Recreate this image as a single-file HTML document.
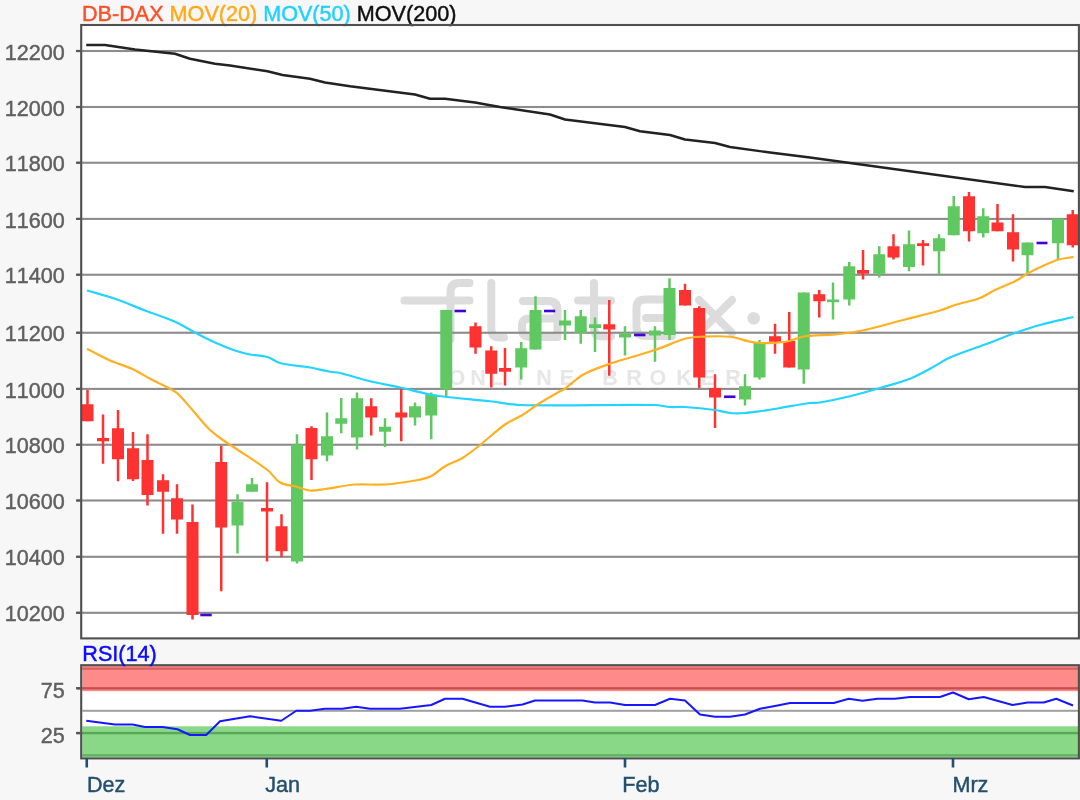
<!DOCTYPE html>
<html><head><meta charset="utf-8"><title>DB-DAX</title>
<style>
html,body{margin:0;padding:0;background:#f7f7f7;}
body{width:1080px;height:800px;overflow:hidden;}
svg{display:block}
text{font-family:"Liberation Sans",sans-serif;font-size:21.6px;font-kerning:none;stroke-width:0.45px}
</style></head><body>
<svg width="1080" height="800" viewBox="0 0 1080 800">
<defs>
<filter id="b" x="-2%" y="-2%" width="104%" height="104%" filterUnits="objectBoundingBox"><feGaussianBlur stdDeviation="0.7"/></filter>
<clipPath id="cp"><rect x="82" y="25" width="997" height="614"/></clipPath>
</defs>
<rect x="0" y="0" width="1080" height="800" fill="#f7f7f7"/>
<g filter="url(#b)">
<rect x="-20" y="-20" width="1120" height="840" fill="#f7f7f7"/>
<rect x="82.35" y="25.65" width="996.3" height="612.9" fill="#ffffff"/>

<g id="wm" fill="none" stroke="#dcdcdc" stroke-width="8" stroke-linecap="round" stroke-linejoin="round">
<path d="M404.5 300.5 H469.5"/>
<path d="M450.5 339 V292 Q450.5 283 459.5 283 H469.5"/>
<path d="M491.3 283 V329 Q491.3 337.5 500 337.5 H504"/>
<path d="M523 301 H548 Q557.5 301 557.5 310 V337 H530 Q522 337 522 329 V326 Q522 318.5 530 318.5 H557"/>
<path d="M594 283 V328 Q594 336.5 602.5 336.5 H611"/>
<path d="M578 300.5 H611"/>
<path d="M672 331 V336 H645 Q636.5 336 636.5 327.5 V308 Q636.5 299.5 645 299.5 H663.5 Q672 299.5 672 308 V318 H646"/>
<path d="M699 300 L732 333 M732 300 L699 333"/>
</g>
<circle cx="753.7" cy="318.3" r="6.3" fill="#dcdcdc"/>
<g fill="#e6e6e6" style="font-weight:bold;font-size:19px">
<text x="457.0" y="384.5" text-anchor="middle">O</text>
<text x="478.0" y="384.5" text-anchor="middle">N</text>
<text x="496.0" y="384.5" text-anchor="middle">L</text>
<text x="520.0" y="384.5" text-anchor="middle">I</text>
<text x="544.0" y="384.5" text-anchor="middle">N</text>
<text x="567.0" y="384.5" text-anchor="middle">E</text>
<text x="610.0" y="384.5" text-anchor="middle">B</text>
<text x="634.0" y="384.5" text-anchor="middle">R</text>
<text x="658.0" y="384.5" text-anchor="middle">O</text>
<text x="684.0" y="384.5" text-anchor="middle">K</text>
<text x="708.0" y="384.5" text-anchor="middle">E</text>
<text x="733.0" y="384.5" text-anchor="middle">R</text>
</g>
<rect x="77" y="49.95" width="1001" height="2.1" fill="#8c8c8c"/>
<rect x="77" y="105.95" width="1001" height="2.1" fill="#8c8c8c"/>
<rect x="77" y="161.70" width="1001" height="2.1" fill="#8c8c8c"/>
<rect x="77" y="217.85" width="1001" height="2.1" fill="#8c8c8c"/>
<rect x="77" y="273.70" width="1001" height="2.1" fill="#8c8c8c"/>
<rect x="77" y="331.70" width="1001" height="2.1" fill="#8c8c8c"/>
<rect x="77" y="387.85" width="1001" height="2.1" fill="#8c8c8c"/>
<rect x="77" y="443.70" width="1001" height="2.1" fill="#8c8c8c"/>
<rect x="77" y="499.45" width="1001" height="2.1" fill="#8c8c8c"/>
<rect x="77" y="555.75" width="1001" height="2.1" fill="#8c8c8c"/>
<rect x="77" y="611.75" width="1001" height="2.1" fill="#8c8c8c"/>
<g clip-path="url(#cp)">
<rect x="86.25" y="390.00" width="2.50" height="31.25" fill="#ff3030"/>
<rect x="81.50" y="404.25" width="12.00" height="17.00" fill="#ff3030"/>
<rect x="101.75" y="414.50" width="2.50" height="49.25" fill="#ff3030"/>
<rect x="97.00" y="438.00" width="12.00" height="3.25" fill="#ff3030"/>
<rect x="116.75" y="410.00" width="2.50" height="71.25" fill="#ff3030"/>
<rect x="112.00" y="428.25" width="12.00" height="31.00" fill="#ff3030"/>
<rect x="131.75" y="432.00" width="2.50" height="49.00" fill="#ff3030"/>
<rect x="127.00" y="448.25" width="12.00" height="31.00" fill="#ff3030"/>
<rect x="146.25" y="434.25" width="2.50" height="71.25" fill="#ff3030"/>
<rect x="141.50" y="460.00" width="12.00" height="35.00" fill="#ff3030"/>
<rect x="161.75" y="474.25" width="2.50" height="59.50" fill="#ff3030"/>
<rect x="157.00" y="480.25" width="12.00" height="11.50" fill="#ff3030"/>
<rect x="175.75" y="484.25" width="2.50" height="49.50" fill="#ff3030"/>
<rect x="171.00" y="498.25" width="12.00" height="21.25" fill="#ff3030"/>
<rect x="191.25" y="504.50" width="2.50" height="115.00" fill="#ff3030"/>
<rect x="186.50" y="522.00" width="12.00" height="93.00" fill="#ff3030"/>
<rect x="220.00" y="445.75" width="2.50" height="145.50" fill="#ff3030"/>
<rect x="215.25" y="462.00" width="12.00" height="65.50" fill="#ff3030"/>
<rect x="236.25" y="494.25" width="2.50" height="59.25" fill="#60c860"/>
<rect x="231.50" y="501.75" width="12.00" height="23.75" fill="#60c860"/>
<rect x="250.75" y="478.00" width="2.50" height="13.75" fill="#60c860"/>
<rect x="246.00" y="484.25" width="12.00" height="7.50" fill="#60c860"/>
<rect x="265.75" y="482.25" width="2.50" height="79.25" fill="#ff3030"/>
<rect x="261.00" y="508.00" width="12.00" height="3.50" fill="#ff3030"/>
<rect x="280.25" y="514.25" width="2.50" height="43.00" fill="#ff3030"/>
<rect x="275.50" y="526.25" width="12.00" height="25.00" fill="#ff3030"/>
<rect x="295.75" y="434.25" width="2.50" height="129.25" fill="#60c860"/>
<rect x="291.00" y="444.50" width="12.00" height="117.00" fill="#60c860"/>
<rect x="310.25" y="426.25" width="2.50" height="53.75" fill="#ff3030"/>
<rect x="305.50" y="428.00" width="12.00" height="31.25" fill="#ff3030"/>
<rect x="325.75" y="412.50" width="2.50" height="48.75" fill="#60c860"/>
<rect x="321.00" y="436.25" width="12.00" height="19.25" fill="#60c860"/>
<rect x="340.00" y="398.00" width="2.50" height="35.25" fill="#60c860"/>
<rect x="335.25" y="418.25" width="12.00" height="5.50" fill="#60c860"/>
<rect x="355.75" y="392.50" width="2.50" height="57.00" fill="#60c860"/>
<rect x="351.00" y="398.25" width="12.00" height="39.25" fill="#60c860"/>
<rect x="370.00" y="398.25" width="2.50" height="37.25" fill="#ff3030"/>
<rect x="365.25" y="406.25" width="12.00" height="11.25" fill="#ff3030"/>
<rect x="383.75" y="418.25" width="2.50" height="28.75" fill="#60c860"/>
<rect x="379.00" y="426.75" width="12.00" height="5.00" fill="#60c860"/>
<rect x="400.00" y="387.50" width="2.50" height="53.75" fill="#ff3030"/>
<rect x="395.25" y="412.50" width="12.00" height="5.00" fill="#ff3030"/>
<rect x="413.75" y="402.50" width="2.50" height="23.00" fill="#60c860"/>
<rect x="409.00" y="406.25" width="12.00" height="11.25" fill="#60c860"/>
<rect x="430.00" y="392.50" width="2.50" height="46.75" fill="#60c860"/>
<rect x="425.25" y="394.50" width="12.00" height="21.00" fill="#60c860"/>
<rect x="445.00" y="310.00" width="2.50" height="86.25" fill="#60c860"/>
<rect x="440.25" y="310.00" width="12.00" height="79.25" fill="#60c860"/>
<rect x="474.25" y="322.50" width="2.50" height="31.25" fill="#ff3030"/>
<rect x="469.50" y="326.25" width="12.00" height="21.25" fill="#ff3030"/>
<rect x="490.00" y="346.25" width="2.50" height="41.25" fill="#ff3030"/>
<rect x="485.25" y="350.50" width="12.00" height="23.25" fill="#ff3030"/>
<rect x="503.75" y="348.00" width="2.50" height="37.50" fill="#ff3030"/>
<rect x="499.00" y="368.00" width="12.00" height="3.75" fill="#ff3030"/>
<rect x="520.00" y="342.00" width="2.50" height="37.50" fill="#60c860"/>
<rect x="515.25" y="348.25" width="12.00" height="19.25" fill="#60c860"/>
<rect x="534.25" y="296.25" width="2.50" height="53.25" fill="#60c860"/>
<rect x="529.50" y="310.00" width="12.00" height="39.50" fill="#60c860"/>
<rect x="563.75" y="310.00" width="2.50" height="30.00" fill="#60c860"/>
<rect x="559.00" y="320.50" width="12.00" height="5.00" fill="#60c860"/>
<rect x="579.50" y="310.00" width="2.50" height="33.75" fill="#60c860"/>
<rect x="574.75" y="316.25" width="12.00" height="16.75" fill="#60c860"/>
<rect x="593.75" y="317.50" width="2.50" height="34.50" fill="#60c860"/>
<rect x="589.00" y="324.25" width="12.00" height="3.75" fill="#60c860"/>
<rect x="608.00" y="300.00" width="2.50" height="75.75" fill="#ff3030"/>
<rect x="603.25" y="324.25" width="12.00" height="5.25" fill="#ff3030"/>
<rect x="623.75" y="326.25" width="2.50" height="29.25" fill="#60c860"/>
<rect x="619.00" y="333.75" width="12.00" height="3.75" fill="#60c860"/>
<rect x="653.75" y="326.25" width="2.50" height="35.50" fill="#60c860"/>
<rect x="649.00" y="330.50" width="12.00" height="5.00" fill="#60c860"/>
<rect x="668.25" y="278.25" width="2.50" height="61.75" fill="#60c860"/>
<rect x="663.50" y="288.00" width="12.00" height="47.00" fill="#60c860"/>
<rect x="683.75" y="283.75" width="2.50" height="21.75" fill="#ff3030"/>
<rect x="679.00" y="290.00" width="12.00" height="15.50" fill="#ff3030"/>
<rect x="698.00" y="306.25" width="2.50" height="81.75" fill="#ff3030"/>
<rect x="693.25" y="308.00" width="12.00" height="69.50" fill="#ff3030"/>
<rect x="713.75" y="374.25" width="2.50" height="53.75" fill="#ff3030"/>
<rect x="709.00" y="388.00" width="12.00" height="9.50" fill="#ff3030"/>
<rect x="743.75" y="374.25" width="2.50" height="31.25" fill="#60c860"/>
<rect x="739.00" y="386.25" width="12.00" height="13.25" fill="#60c860"/>
<rect x="758.25" y="340.00" width="2.50" height="39.50" fill="#60c860"/>
<rect x="753.50" y="343.00" width="12.00" height="34.50" fill="#60c860"/>
<rect x="773.75" y="323.75" width="2.50" height="30.00" fill="#ff3030"/>
<rect x="769.00" y="336.25" width="12.00" height="5.50" fill="#ff3030"/>
<rect x="788.00" y="312.00" width="2.50" height="55.50" fill="#ff3030"/>
<rect x="783.25" y="341.00" width="12.00" height="26.50" fill="#ff3030"/>
<rect x="802.50" y="292.50" width="2.50" height="91.25" fill="#60c860"/>
<rect x="797.75" y="292.50" width="12.00" height="77.00" fill="#60c860"/>
<rect x="818.00" y="290.00" width="2.50" height="27.50" fill="#ff3030"/>
<rect x="813.25" y="294.25" width="12.00" height="7.00" fill="#ff3030"/>
<rect x="831.75" y="282.50" width="2.50" height="37.00" fill="#60c860"/>
<rect x="827.00" y="299.50" width="12.00" height="2.70" fill="#60c860"/>
<rect x="848.00" y="262.00" width="2.50" height="43.50" fill="#60c860"/>
<rect x="843.25" y="266.25" width="12.00" height="33.25" fill="#60c860"/>
<rect x="861.75" y="250.00" width="2.50" height="29.50" fill="#ff3030"/>
<rect x="857.00" y="270.00" width="12.00" height="3.75" fill="#ff3030"/>
<rect x="878.00" y="246.25" width="2.50" height="31.25" fill="#60c860"/>
<rect x="873.25" y="254.25" width="12.00" height="19.50" fill="#60c860"/>
<rect x="892.25" y="234.25" width="2.50" height="25.25" fill="#ff3030"/>
<rect x="887.50" y="246.25" width="12.00" height="11.25" fill="#ff3030"/>
<rect x="907.75" y="230.50" width="2.50" height="40.75" fill="#60c860"/>
<rect x="903.00" y="244.25" width="12.00" height="22.75" fill="#60c860"/>
<rect x="921.75" y="240.00" width="2.50" height="25.50" fill="#ff3030"/>
<rect x="917.00" y="243.25" width="12.00" height="2.70" fill="#ff3030"/>
<rect x="937.75" y="234.25" width="2.50" height="40.25" fill="#60c860"/>
<rect x="933.00" y="238.25" width="12.00" height="13.00" fill="#60c860"/>
<rect x="952.50" y="196.00" width="2.50" height="39.25" fill="#60c860"/>
<rect x="947.75" y="206.25" width="12.00" height="29.00" fill="#60c860"/>
<rect x="967.75" y="192.00" width="2.50" height="49.50" fill="#ff3030"/>
<rect x="963.00" y="196.25" width="12.00" height="35.00" fill="#ff3030"/>
<rect x="982.00" y="208.25" width="2.50" height="29.25" fill="#60c860"/>
<rect x="977.25" y="216.25" width="12.00" height="17.00" fill="#60c860"/>
<rect x="996.25" y="204.00" width="2.50" height="27.25" fill="#ff3030"/>
<rect x="991.50" y="222.50" width="12.00" height="8.75" fill="#ff3030"/>
<rect x="1011.75" y="214.25" width="2.50" height="47.25" fill="#ff3030"/>
<rect x="1007.00" y="232.25" width="12.00" height="17.25" fill="#ff3030"/>
<rect x="1026.25" y="242.50" width="2.50" height="31.25" fill="#60c860"/>
<rect x="1021.50" y="242.50" width="12.00" height="12.75" fill="#60c860"/>
<rect x="1056.75" y="218.75" width="2.50" height="40.75" fill="#60c860"/>
<rect x="1052.00" y="218.75" width="12.00" height="24.50" fill="#60c860"/>
<rect x="1071.50" y="210.00" width="2.50" height="37.50" fill="#ff3030"/>
<rect x="1066.75" y="214.25" width="12.00" height="31.00" fill="#ff3030"/>
<rect x="200.30" y="613.70" width="11.40" height="2.6" fill="#4000d8"/>
<rect x="454.55" y="309.70" width="11.40" height="2.6" fill="#4000d8"/>
<rect x="544.05" y="309.70" width="11.15" height="2.6" fill="#4000d8"/>
<rect x="634.05" y="333.70" width="11.40" height="2.6" fill="#4000d8"/>
<rect x="724.05" y="395.45" width="11.40" height="2.6" fill="#4000d8"/>
<rect x="1036.55" y="241.70" width="10.90" height="2.6" fill="#4000d8"/>
<path d="M87.00 290.50 C96.33 293.25 105.67 295.53 115.00 298.75 C125.00 302.20 135.00 306.67 145.00 310.50 C155.00 314.33 165.00 317.35 175.00 321.75 C181.67 324.68 188.33 329.04 195.00 332.50 C201.67 335.96 208.33 339.50 215.00 342.50 C221.67 345.50 228.33 348.21 235.00 350.50 C240.00 352.21 245.00 353.50 250.00 354.50 C255.83 355.67 261.67 355.35 267.50 357.00 C271.67 358.18 275.83 361.97 280.00 363.00 C290.00 365.47 300.00 365.75 310.00 367.50 C316.67 368.67 323.33 370.53 330.00 371.75 C333.33 372.36 336.67 372.21 340.00 373.00 C350.00 375.38 360.00 378.83 370.00 381.25 C380.00 383.67 390.00 385.29 400.00 387.50 C410.00 389.71 420.00 392.44 430.00 394.50 C435.00 395.53 440.00 396.19 445.00 396.75 C460.00 398.44 475.00 399.60 490.00 401.25 C500.00 402.35 510.00 404.77 520.00 405.00 C565.00 406.02 610.00 404.40 655.00 405.00 C660.00 405.07 665.00 406.67 670.00 407.00 C675.00 407.33 680.00 406.67 685.00 407.00 C695.00 407.67 705.00 408.67 715.00 410.00 C720.00 410.67 725.00 412.50 730.00 413.00 C735.00 413.50 740.00 413.29 745.00 413.00 C750.00 412.71 755.00 411.96 760.00 411.25 C766.67 410.30 773.33 409.10 780.00 408.00 C790.00 406.35 800.00 404.38 810.00 403.00 C813.33 402.54 816.67 403.06 820.00 402.50 C830.00 400.81 840.00 398.67 850.00 396.25 C860.00 393.83 870.00 390.92 880.00 388.00 C890.00 385.08 900.00 382.60 910.00 378.75 C916.67 376.18 923.33 372.29 930.00 368.75 C936.67 365.21 943.33 360.44 950.00 357.50 C961.67 352.36 973.33 348.90 985.00 344.50 C995.00 340.73 1005.00 336.55 1015.00 333.00 C1023.33 330.05 1031.67 327.28 1040.00 325.00 C1051.17 321.95 1062.33 319.67 1073.50 317.00" fill="none" stroke="#22d4ff" stroke-width="2.2" stroke-linejoin="round"/>
<path d="M87.00 348.75 C94.67 352.67 102.33 357.09 110.00 360.50 C117.50 363.84 125.00 365.58 132.50 369.00 C138.33 371.66 144.17 375.68 150.00 378.75 C156.67 382.26 163.33 385.17 170.00 388.75 C172.50 390.09 175.00 391.14 177.50 393.50 C182.50 398.22 187.50 404.33 192.50 410.00 C197.50 415.67 202.50 422.41 207.50 427.50 C211.67 431.74 215.83 434.89 220.00 438.00 C225.00 441.73 230.00 444.63 235.00 448.00 C245.83 455.30 256.67 461.69 267.50 470.00 C271.67 473.19 275.83 480.04 280.00 482.50 C285.00 485.45 290.00 484.92 295.00 486.25 C300.00 487.58 305.00 490.04 310.00 490.50 C315.00 490.96 320.00 489.67 325.00 489.00 C335.00 487.67 345.00 485.25 355.00 484.50 C365.00 483.75 375.00 485.17 385.00 484.50 C395.00 483.83 405.00 482.29 415.00 480.50 C420.33 479.54 425.67 478.78 431.00 476.25 C435.67 474.03 440.33 468.95 445.00 466.25 C450.83 462.87 456.67 461.54 462.50 458.00 C468.33 454.46 474.17 449.60 480.00 445.00 C488.33 438.43 496.67 430.38 505.00 424.50 C510.83 420.38 516.67 418.59 522.50 415.00 C527.50 411.92 532.50 407.67 537.50 404.50 C545.00 399.75 552.50 395.55 560.00 391.25 C561.67 390.30 563.33 389.95 565.00 388.75 C570.83 384.54 576.67 378.24 582.50 375.00 C591.67 369.91 600.83 366.91 610.00 363.75 C625.00 358.58 640.00 355.00 655.00 350.00 C665.00 346.67 675.00 341.69 685.00 338.75 C690.00 337.28 695.00 336.97 700.00 336.75 C710.00 336.31 720.00 335.70 730.00 336.75 C738.33 337.62 746.67 341.70 755.00 342.50 C765.00 343.45 775.00 343.25 785.00 342.00 C791.67 341.17 798.33 337.25 805.00 336.25 C815.00 334.75 825.00 335.54 835.00 334.50 C845.00 333.46 855.00 332.14 865.00 330.00 C878.33 327.14 891.67 322.97 905.00 319.50 C916.67 316.47 928.33 313.88 940.00 310.50 C945.00 309.05 950.00 306.56 955.00 305.00 C963.33 302.40 971.67 301.12 980.00 298.00 C985.00 296.12 990.00 292.39 995.00 290.00 C1001.67 286.81 1008.33 284.60 1015.00 281.25 C1019.00 279.24 1023.00 276.13 1027.00 273.90 C1031.33 271.48 1035.67 269.31 1040.00 267.30 C1045.67 264.67 1051.33 261.78 1057.00 260.00 C1062.50 258.28 1068.00 257.87 1073.50 256.80" fill="none" stroke="#ffb020" stroke-width="2.2" stroke-linejoin="round"/>
<polyline points="86.25,45.00 105.00,45.00 135.00,49.50 175.00,53.75 190.00,58.75 215.00,63.75 230.00,65.50 267.50,71.25 282.50,75.00 310.00,78.75 325.00,82.50 350.00,86.25 415.00,94.50 430.00,98.75 445.00,98.75 475.00,102.50 500.00,107.00 550.00,114.50 565.00,119.50 625.00,127.00 640.00,131.25 670.00,135.00 685.00,139.50 715.00,143.00 730.00,147.00 770.00,152.50 810.00,157.50 1025.00,187.00 1045.00,187.00 1073.75,191.25" fill="none" stroke="#202020" stroke-width="2.4" stroke-linejoin="round"/>
</g>
<text x="82" y="21.3" xml:space="preserve"><tspan fill="#ff5028" stroke="#ff5028">DB-DAX</tspan> <tspan fill="#ffaa18" stroke="#ffaa18">MOV(20)</tspan> <tspan fill="#1fd2ff" stroke="#1fd2ff">MOV(50)</tspan> <tspan fill="#101010" stroke="#101010">MOV(200)</tspan></text>
<rect x="81.2" y="25.0" width="997.7" height="613.4" fill="none" stroke="#505050" stroke-width="2.1"/>
<rect x="82.35" y="665.55" width="996.3" height="91.8" fill="#ffffff"/>
<rect x="82.35" y="665.5" width="996.3" height="25.7" fill="#ff8a8a"/>
<rect x="82.35" y="726.3" width="996.3" height="31" fill="#88d888"/>
<rect x="82.35" y="667.6" width="996.3" height="2.2" fill="#d86060"/>
<rect x="77" y="687.1" width="1001" height="2.4" fill="#c85050"/>
<rect x="82.35" y="709.8" width="996.3" height="2" fill="#a0a0a0"/>
<rect x="77" y="731.9" width="1001" height="2.4" fill="#58a858"/>
<rect x="82.35" y="754.2" width="996.3" height="2.2" fill="#60b060"/>
<polyline points="86.25,720.75 115.00,724.50 132.50,724.50 145.00,727.00 162.50,727.00 177.50,729.25 190.00,735.00 206.25,735.00 220.00,721.25 250.00,716.25 281.25,720.75 296.25,710.75 310.00,710.75 325.00,708.75 342.50,708.75 356.25,706.75 370.00,708.75 400.00,708.75 431.25,705.00 445.00,698.75 462.50,698.75 490.00,706.75 505.00,706.75 522.50,704.50 535.00,700.50 582.50,700.50 595.00,702.50 610.00,702.50 625.00,705.00 655.00,705.00 670.00,698.75 685.00,700.50 700.00,714.50 715.00,716.75 730.00,716.75 745.00,714.50 760.00,708.75 775.00,706.00 790.00,703.00 833.75,703.00 848.75,698.75 862.50,700.75 877.50,698.75 895.00,698.75 910.00,697.00 940.00,697.00 953.00,692.50 968.75,699.25 983.75,697.00 1012.50,705.00 1027.50,702.50 1043.75,702.50 1056.25,698.75 1073.00,705.50" fill="none" stroke="#1818ff" stroke-width="2.0" stroke-linejoin="round"/>
<rect x="81.2" y="665.2" width="997.7" height="93.2" fill="none" stroke="#505050" stroke-width="2.1"/>
<rect x="76" y="687.1" width="5.5" height="2.3" fill="#585858"/>
<rect x="76" y="731.9" width="5.5" height="2.3" fill="#585858"/>
<rect x="85.45" y="758" width="2.6" height="9.5" fill="#24506e"/>
<rect x="265.45" y="758" width="2.6" height="9.5" fill="#24506e"/>
<rect x="623.70" y="758" width="2.6" height="9.5" fill="#24506e"/>
<rect x="951.70" y="758" width="2.6" height="9.5" fill="#24506e"/>
<text x="64.7" y="59.60" text-anchor="end" fill="#606060" stroke="#606060">12200</text>
<rect x="76" y="49.90" width="5.5" height="2.2" fill="#585858"/>
<text x="64.7" y="115.60" text-anchor="end" fill="#606060" stroke="#606060">12000</text>
<rect x="76" y="105.90" width="5.5" height="2.2" fill="#585858"/>
<text x="64.7" y="171.35" text-anchor="end" fill="#606060" stroke="#606060">11800</text>
<rect x="76" y="161.65" width="5.5" height="2.2" fill="#585858"/>
<text x="64.7" y="227.50" text-anchor="end" fill="#606060" stroke="#606060">11600</text>
<rect x="76" y="217.80" width="5.5" height="2.2" fill="#585858"/>
<text x="64.7" y="283.35" text-anchor="end" fill="#606060" stroke="#606060">11400</text>
<rect x="76" y="273.65" width="5.5" height="2.2" fill="#585858"/>
<text x="64.7" y="341.35" text-anchor="end" fill="#606060" stroke="#606060">11200</text>
<rect x="76" y="331.65" width="5.5" height="2.2" fill="#585858"/>
<text x="64.7" y="397.50" text-anchor="end" fill="#606060" stroke="#606060">11000</text>
<rect x="76" y="387.80" width="5.5" height="2.2" fill="#585858"/>
<text x="64.7" y="453.35" text-anchor="end" fill="#606060" stroke="#606060">10800</text>
<rect x="76" y="443.65" width="5.5" height="2.2" fill="#585858"/>
<text x="64.7" y="509.10" text-anchor="end" fill="#606060" stroke="#606060">10600</text>
<rect x="76" y="499.40" width="5.5" height="2.2" fill="#585858"/>
<text x="64.7" y="565.40" text-anchor="end" fill="#606060" stroke="#606060">10400</text>
<rect x="76" y="555.70" width="5.5" height="2.2" fill="#585858"/>
<text x="64.7" y="621.40" text-anchor="end" fill="#606060" stroke="#606060">10200</text>
<rect x="76" y="611.70" width="5.5" height="2.2" fill="#585858"/>
<text x="64.7" y="698.1" text-anchor="end" fill="#606060" stroke="#606060">75</text>
<text x="64.7" y="742.8" text-anchor="end" fill="#606060" stroke="#606060">25</text>
<text x="82.3" y="661.4" fill="#0808ff" stroke="#0808ff">RSI(14)</text>
<text x="87.0" y="791.9" fill="#24506e" stroke="#24506e">Dez</text>
<text x="265.2" y="791.9" fill="#24506e" stroke="#24506e">Jan</text>
<text x="622.2" y="791.9" fill="#24506e" stroke="#24506e">Feb</text>
<text x="952.4" y="791.9" fill="#24506e" stroke="#24506e">Mrz</text>
</g></svg></body></html>
